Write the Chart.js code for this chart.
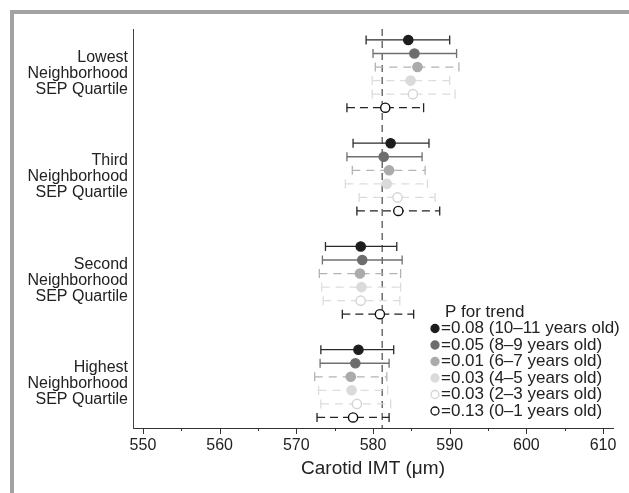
<!DOCTYPE html>
<html>
<head>
<meta charset="utf-8">
<script src="https://cdn.jsdelivr.net/npm/chart.js@4.4.1/dist/chart.umd.min.js"></script>
<style>
  html, body { margin: 0; padding: 0; background: #fff; }
  #wrap { position: relative; width: 629px; height: 493px; }
</style>
</head>
<body>
<div id="wrap"><canvas id="chart"></canvas></div>
<script>
// ── Data ────────────────────────────────────────────────────

const groups = ["Lowest", "Third", "Second", "Highest"];
const xTicks = [550, 555, 560, 565, 570, 575, 580, 585, 590, 595, 600, 605, 610];
const ages = ["10–11", "8–9", "6–7", "4–5", "2–3", "0–1"];
const pTrend = ["0.08", "0.05", "0.01", "0.03", "0.03", "0.13"];
const refValue = 581.2;

// one row per age series, one column per quartile (Lowest, Third, Second, Highest)
const mean = [
  [584.6, 582.3, 578.4, 578.1],
  [585.4, 581.4, 578.6, 577.7],
  [585.8, 582.1, 578.3, 577.1],
  [584.9, 581.8, 578.5, 577.2],
  [585.2, 583.2, 578.4, 577.9],
  [581.6, 583.3, 580.9, 577.4],
];
const lower = [
  [579.1, 577.4, 573.8, 573.2],
  [580.0, 576.6, 573.4, 573.1],
  [580.3, 577.3, 573.0, 572.4],
  [579.9, 576.4, 573.3, 572.9],
  [579.9, 578.2, 573.5, 573.2],
  [576.6, 577.9, 576.0, 572.7],
];
const upper = [
  [590.0, 587.3, 583.1, 582.7],
  [590.9, 586.4, 583.8, 582.1],
  [591.2, 586.8, 583.6, 581.8],
  [590.0, 587.1, 583.6, 581.9],
  [590.7, 588.1, 583.5, 582.3],
  [586.6, 588.7, 585.3, 582.1],
];

// ── Styles / layout ─────────────────────────────────────────

const styles = [
  { fill: "#1d1d1d", stroke: "#1d1d1d", line: "#2b2b2b", dash: [] },
  { fill: "#6d6d6d", stroke: "#6d6d6d", line: "#707070", dash: [] },
  { fill: "#ababab", stroke: "#ababab", line: "#b3b3b3", dash: [8, 6] },
  { fill: "#dadada", stroke: "#dadada", line: "#dddddd", dash: [8, 6] },
  { fill: "#ffffff", stroke: "#d4d4d4", line: "#dcdcdc", dash: [8, 6] },
  { fill: "#ffffff", stroke: "#111111", line: "#222222", dash: [8, 5] },
];

const Y0 = 0.81;
const GROUP_STEP = 7.62;
const Y_MAX = 29.45;
const rowY = (g, r) => Y0 + g * GROUP_STEP + r;
const FONT = "'Liberation Sans', Arial, Helvetica, sans-serif";

// ── Datasets ────────────────────────────────────────────────

const datasets = [];

datasets.push({
  data: [{ x: refValue, y: 0 }, { x: refValue, y: Y_MAX }],
  showLine: true,
  borderColor: "#555555",
  borderWidth: 1.3,
  borderDash: [7, 5],
  pointRadius: 0,
  order: 3,
});

ages.forEach((age, s) => {
  const st = styles[s];
  const whiskers = [];
  groups.forEach((g, gi) => {
    const y = rowY(gi, s);
    whiskers.push({ x: lower[s][gi], y }, { x: upper[s][gi], y }, { x: null, y: null });
  });
  datasets.push({
    data: whiskers,
    showLine: true,
    spanGaps: false,
    borderColor: st.line,
    borderWidth: 1.3,
    borderDash: st.dash,
    pointStyle: "line",
    rotation: 90,
    pointRadius: 4.5,
    pointBorderColor: st.line,
    pointBorderWidth: 1.3,
    order: 2,
  });
  datasets.push({
    data: groups.map((g, gi) => ({ x: mean[s][gi], y: rowY(gi, s) })),
    pointRadius: 4.6,
    backgroundColor: st.fill,
    borderColor: st.stroke,
    borderWidth: 1.4,
    order: 1,
  });
});

// ── Plugins ─────────────────────────────────────────────────

const framePlugin = {
  id: "frame",
  beforeDraw(chart) {
    const ctx = chart.ctx;
    ctx.save();
    ctx.fillStyle = "#ffffff";
    ctx.fillRect(0, 0, chart.width, chart.height);
    ctx.fillStyle = "#a2a2a2";
    ctx.fillRect(10, 10, chart.width - 10, 4);
    ctx.fillRect(10, 10, 4, chart.height - 10);
    ctx.restore();
  },
};

const xTickPlugin = {
  id: "xTickMarks",
  afterDraw(chart) {
    const ctx = chart.ctx;
    const x = chart.scales.x;
    const bottom = chart.chartArea.bottom;
    ctx.save();
    ctx.strokeStyle = "#333333";
    ctx.lineWidth = 1;
    xTicks.forEach(v => {
      const px = Math.round(x.getPixelForValue(v)) + 0.5;
      ctx.beginPath();
      ctx.moveTo(px, bottom);
      ctx.lineTo(px, bottom + (v % 10 === 0 ? 6 : 3));
      ctx.stroke();
    });
    ctx.restore();
  },
};

const legendPlugin = {
  id: "pLegend",
  afterDraw(chart) {
    const ctx = chart.ctx;
    ctx.save();
    ctx.font = `17px ${FONT}`;
    ctx.fillStyle = "#222222";
    ctx.textBaseline = "middle";
    ctx.textAlign = "left";
    ctx.fillText("P for trend", 445, 312);
    ages.forEach((age, i) => {
      const st = styles[i];
      const y = 328.5 + i * 16.5;
      ctx.beginPath();
      ctx.arc(435, y, 4, 0, Math.PI * 2);
      ctx.fillStyle = st.fill;
      ctx.fill();
      ctx.lineWidth = 1.3;
      ctx.strokeStyle = st.stroke;
      ctx.stroke();
      ctx.fillStyle = "#222222";
      ctx.fillText(`=${pTrend[i]} (${age} years old)`, 441, y);
    });
    ctx.restore();
  },
};

// ── Chart ───────────────────────────────────────────────────

new Chart(document.getElementById("chart"), {
  type: "scatter",
  data: { datasets },
  plugins: [framePlugin, xTickPlugin, legendPlugin],
  options: {
    responsive: true,
    maintainAspectRatio: false,
    animation: false,
    layout: { padding: { left: 0, top: 29, right: 16, bottom: 0 } },
    plugins: { legend: { display: false }, tooltip: { enabled: false } },
    scales: {
      x: {
        type: "linear",
        min: 548.7,
        max: 611.3,
        afterBuildTicks: s => { s.ticks = xTicks.map(v => ({ value: v })); },
        afterFit: s => { s.height = 65; },
        grid: { display: false, drawTicks: false },
        border: { display: true, color: "#333333", width: 1 },
        ticks: {
          autoSkip: false,
          maxRotation: 0,
          padding: 8,
          color: "#222222",
          font: { family: FONT, size: 16 },
          callback: v => (v % 10 === 0 ? String(v) : ""),
        },
        title: {
          display: true,
          text: "Carotid IMT (μm)",
          color: "#222222",
          font: { family: FONT, size: 19 },
          padding: { top: 0, bottom: 13 },
        },
      },
      y: {
        type: "linear",
        reverse: true,
        min: 0,
        max: Y_MAX,
        afterBuildTicks: s => { s.ticks = groups.map((g, gi) => ({ value: rowY(gi, 2.5) })); },
        afterFit: s => { s.width = 133; },
        grid: { display: false, drawTicks: false },
        border: { display: true, color: "#444444", width: 1 },
        ticks: {
          autoSkip: false,
          padding: 5,
          color: "#222222",
          font: { family: FONT, size: 16, lineHeight: 1 },
          callback: (v, i) => [groups[i], "Neighborhood", "SEP Quartile"],
        },
      },
    },
  },
});
</script>
</body>
</html>
